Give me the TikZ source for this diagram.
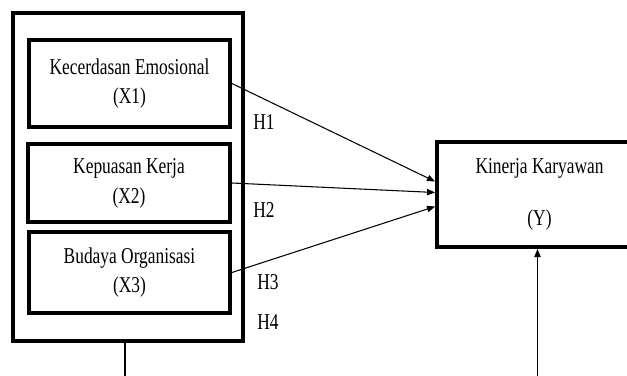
\documentclass[tikz,border=0pt]{standalone}
\usepackage{fontspec}
\setmainfont{Liberation Serif}
\usepackage{graphicx}
\usetikzlibrary{arrows.meta, positioning, calc}

\newcommand{\tall}[1]{\scalebox{1}[1.3]{#1}}

\begin{document}
\begin{tikzpicture}[
    x=0.02cm, y=-0.02cm,
    box/.style={draw, line width=2.2pt, align=center, inner sep=0pt,
                font=\fontsize{9.9}{17}\selectfont},
    lbl/.style={font=\fontsize{9.9}{12}\selectfont, inner sep=0pt},
    arr/.style={-{Triangle[length=4.6pt, width=3.6pt]}, line width=0.6pt}
  ]
    \useasboundingbox (0,0) rectangle (627,376);
    \clip (0,0) rectangle (627,376);
    % independent variables
    \node[box, minimum width=4.6cm, minimum height=6.56cm] (frame) at (128, 177) {};
    \node[box, minimum width=4.02cm, minimum height=1.74cm] (x1) at (129.5, 83.5)
      {\tall{Kecerdasan Emosional}\\\tall{(X1)}};
    \node[box, minimum width=4.04cm, minimum height=1.56cm] (x2) at (129, 183)
      {\tall{Kepuasan Kerja}\\\tall{(X2)}};
    \node[box, minimum width=4.02cm, minimum height=1.62cm] (x3) at (129.5, 272.5)
      {\tall{Budaya Organisasi}\\\tall{(X3)}};
    % dependent variable
    \node[box, minimum width=4.1cm, minimum height=2.1cm] (y) at (539.5, 194.5)
      {\tall{Kinerja Karyawan}\\[12.5pt]\tall{(Y)}};
    % hypotheses
    \draw[arr] (x1.east) -- ($(y.west)+(0,-13)$);
    \draw[arr] (x2.east) -- ($(y.west)+(0,-2)$);
    \draw[arr] (x3.east) -- ($(y.west)+(0,12)$);
    \node[lbl] (h1) at (264, 122) {\tall{H1}};
    \node[lbl] (h2) at (264, 210) {\tall{H2}};
    \node[lbl] (h3) at (268, 282) {\tall{H3}};
    \node[lbl] (h4) at (268, 322) {\tall{H4}};
    \coordinate (base) at (330, 377.5);
    \draw[arr] ($(frame.south)+(-3,0)$) |- (base) -| ($(y.south)+(-2,0)$);
  \end{tikzpicture}
\end{document}
